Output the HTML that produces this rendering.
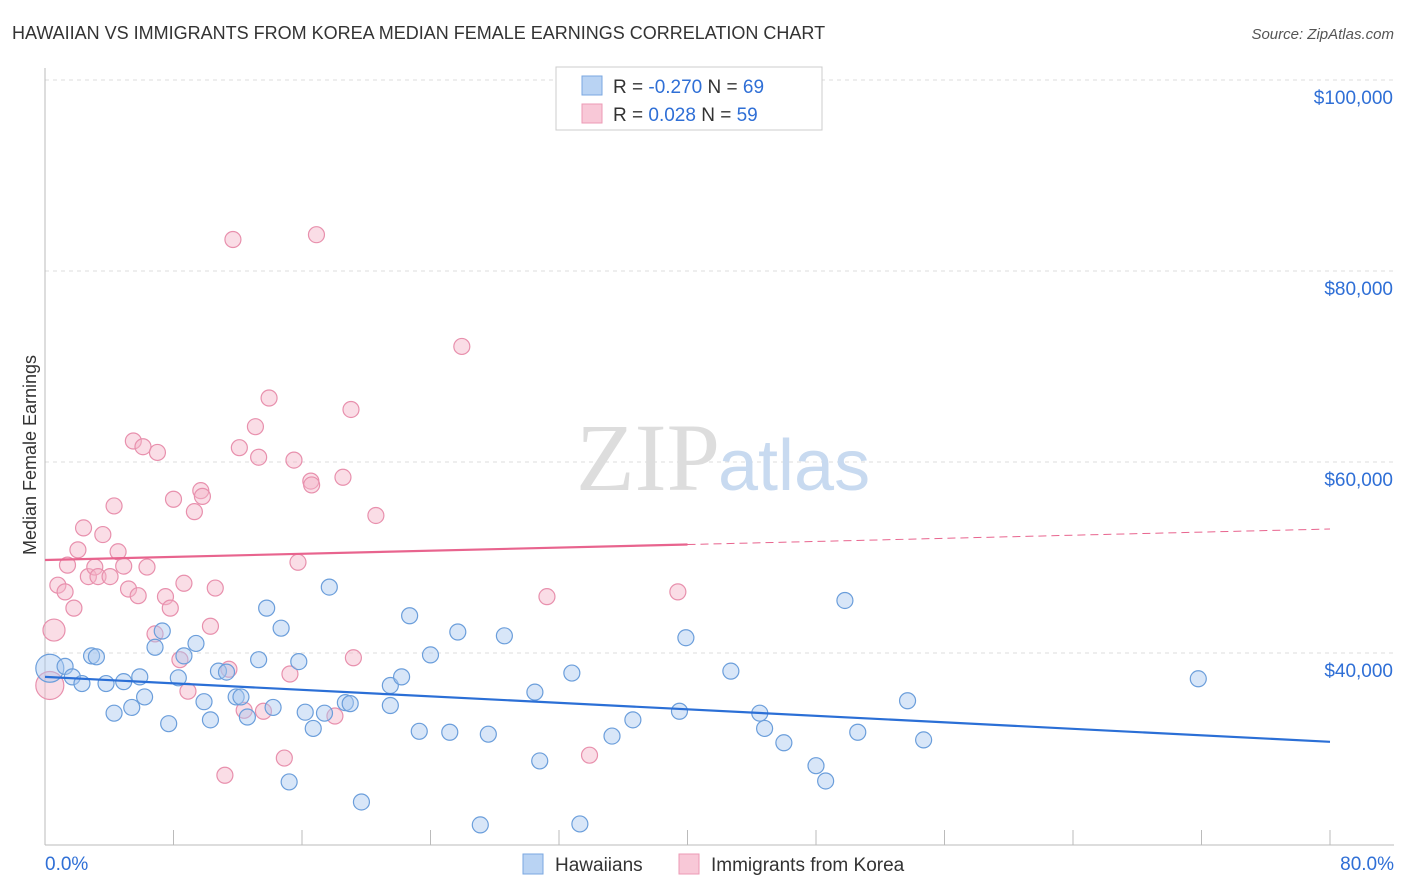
<!DOCTYPE html>
<html><head><meta charset="utf-8"><style>
body{margin:0;background:#fff;font-family:"Liberation Sans",sans-serif;}
svg{display:block}
</style></head><body>
<svg width="1406" height="892" xmlns="http://www.w3.org/2000/svg">
<text x="12" y="39" font-size="18" fill="#333">HAWAIIAN VS IMMIGRANTS FROM KOREA MEDIAN FEMALE EARNINGS CORRELATION CHART</text>
<text x="1394" y="39" font-size="15" fill="#555" font-style="italic" text-anchor="end">Source: ZipAtlas.com</text>
<g id="grid"></g>
<text x="720" y="490" font-size="96" fill="#ddd" text-anchor="end" font-family="Liberation Serif">ZIP</text>
<text x="718" y="490" font-size="72" fill="#c8daf0">atlas</text>
<g id="axes"></g>
<g id="marks"></g>
<text x="36" y="455" font-size="18" fill="#333" text-anchor="middle" transform="rotate(-90 36 455)">Median Female Earnings</text>
<g>
<rect x="556" y="67" width="266" height="63" fill="#fff" stroke="#ccc"/>
<rect x="582" y="76" width="20" height="19" fill="#b9d3f3" stroke="#7aa7e0"/>
<rect x="582" y="104" width="20" height="19" fill="#f8c8d7" stroke="#ec9ab5"/>
<text x="613" y="93" font-size="19" fill="#333">R = <tspan fill="#2f6fd6">-0.270</tspan>   N = <tspan fill="#2f6fd6">69</tspan></text>
<text x="613" y="121" font-size="19" fill="#333">R =   <tspan fill="#2f6fd6">0.028</tspan>   N = <tspan fill="#2f6fd6">59</tspan></text>
</g>
<g>
<rect x="523" y="854" width="20" height="20" fill="#b9d3f3" stroke="#7aa7e0"/>
<text x="555" y="871" font-size="19" fill="#333">Hawaiians</text>
<rect x="679" y="854" width="20" height="20" fill="#f8c8d7" stroke="#ec9ab5"/>
<text x="711" y="871" font-size="19" fill="#333">Immigrants from Korea</text>
</g>
</svg>
<script>
const yTicks=[40000,60000,80000,100000];
const yTickLabels=["$40,000","$60,000","$80,000","$100,000"];
const xTickLabels=["0.0%","80.0%"];
const blueX=[0.3,1.25,1.7,2.3,2.9,3.2,3.8,4.3,4.9,5.4,5.9,6.2,6.85,7.3,7.7,8.3,8.65,9.4,9.9,10.3,10.8,11.3,11.9,12.2,12.6,13.3,13.8,14.2,14.7,15.2,15.8,16.2,16.7,17.4,17.7,18.7,19.0,19.7,21.5,21.5,22.2,22.7,23.3,24.0,25.2,25.7,27.1,27.6,28.6,30.5,30.8,32.8,33.3,35.3,36.6,39.5,39.9,42.7,44.5,44.8,46.0,48.0,48.6,49.8,50.6,53.7,54.7,71.8];
const blueY=[38400,38600,37500,36800,39700,39600,36800,33700,37000,34300,37500,35400,40600,42300,32600,37400,39700,41000,34900,33000,38100,38000,35400,35400,33300,39300,44700,34300,42600,26500,39100,33800,32100,33700,46900,34800,34700,24400,36600,34500,37500,43900,31800,39800,31700,42200,22000,31500,41800,35900,28700,37900,22100,31300,33000,33900,41600,38100,33700,32100,30600,28200,26600,45500,31700,35000,30900,37300];
const pinkX=[0.3,0.56,0.8,1.25,1.4,1.8,2.4,2.05,2.7,3.1,3.3,3.6,4.05,4.3,4.55,4.9,5.2,5.5,5.8,6.1,6.35,6.85,7.0,7.5,7.8,8.0,8.4,8.65,8.9,9.3,9.7,9.8,10.3,10.6,11.2,11.45,11.7,12.1,12.4,13.1,13.3,13.6,13.95,14.9,15.25,15.5,15.75,16.55,16.6,16.9,18.05,18.55,19.05,19.2,20.6,25.95,31.25,33.9,39.4];
const pinkY=[36600,42400,47100,46400,49200,44700,53100,50800,48000,49000,48000,52400,48000,55400,50600,49100,46700,62200,46000,61600,49000,42000,61000,45900,44700,56100,39300,47300,36000,54800,57000,56400,42800,46800,27200,38300,83300,61500,34000,63700,60500,33900,66700,29000,37800,60200,49500,58000,57600,83800,33400,58400,65500,39500,54400,72100,45900,29300,46400];
const blueFit=[37500,-85]; // intercept, slope per %
const pinkFit=[49740,40.5];
const NS="http://www.w3.org/2000/svg";
function xs(v){return 45+v/80*1285;}
function ys(v){return 653-(v-40000)*191/20000;}
function mk(tag,attrs,parent){const e=document.createElementNS(NS,tag);for(const k in attrs)e.setAttribute(k,attrs[k]);document.getElementById(parent).appendChild(e);return e;}
yTicks.forEach((t,i)=>{
 const g=mk('line',{x1:45,x2:1394,y1:ys(t)-(i==3?-0:0),y2:ys(t),stroke:'#ddd','stroke-dasharray':'4 4'},'grid');
 
 
 const l=mk('text',{x:1393,y:ys(t)+24,'font-size':19,fill:'#2f6fd6','text-anchor':'end'},'axes');
 l.textContent=yTickLabels[i];
 
 
});
let ax=mk('line',{x1:45,x2:45,y1:68,y2:845,stroke:'#bbb'},'axes');


ax=mk('line',{x1:45,x2:1394,y1:845,y2:845,stroke:'#bbb'},'axes');


for(let i=0;i<=10;i++){
 const t=mk('line',{x1:xs(i*8),x2:xs(i*8),y1:830,y2:845,stroke:'#bbb'},'axes');
 
 
}
[[0,'start',45],[80,'end',1394]].forEach((d,i)=>{
 const l=mk('text',{x:d[2],y:870,'font-size':19,fill:'#2f6fd6','text-anchor':d[1]},'axes');
 l.textContent=xTickLabels[i];
 
 
});
function pts(X,Y,fill,stroke,name){
 X.forEach((x,i)=>{
  const big=(name=='pink-point'&&i<2)||(name=='blue-point'&&i==0);
  const c=mk('circle',{cx:xs(x),cy:ys(Y[i]),r:big?(i==0?14:11):8,fill:fill,'fill-opacity':0.45,stroke:stroke,'stroke-width':1.2},'marks');
  
  
 });
}
pts(pinkX,pinkY,'#f4b3c8','#e890ad','pink-point');
pts(blueX,blueY,'#a9c8ef','#6b9edb','blue-point');
let ln=mk('line',{x1:xs(0),y1:ys(blueFit[0]),x2:xs(80),y2:ys(blueFit[0]+blueFit[1]*80),stroke:'#2b6fd6','stroke-width':2.2},'marks');


ln=mk('line',{x1:xs(0),y1:ys(pinkFit[0]),x2:xs(40),y2:ys(pinkFit[0]+pinkFit[1]*40),stroke:'#e8648e','stroke-width':2.2},'marks');


ln=mk('line',{x1:xs(40),y1:ys(pinkFit[0]+pinkFit[1]*40),x2:xs(80),y2:ys(pinkFit[0]+pinkFit[1]*80),stroke:'#e8648e','stroke-width':1,'stroke-dasharray':'8 5'},'marks');


</script>
</body></html>
